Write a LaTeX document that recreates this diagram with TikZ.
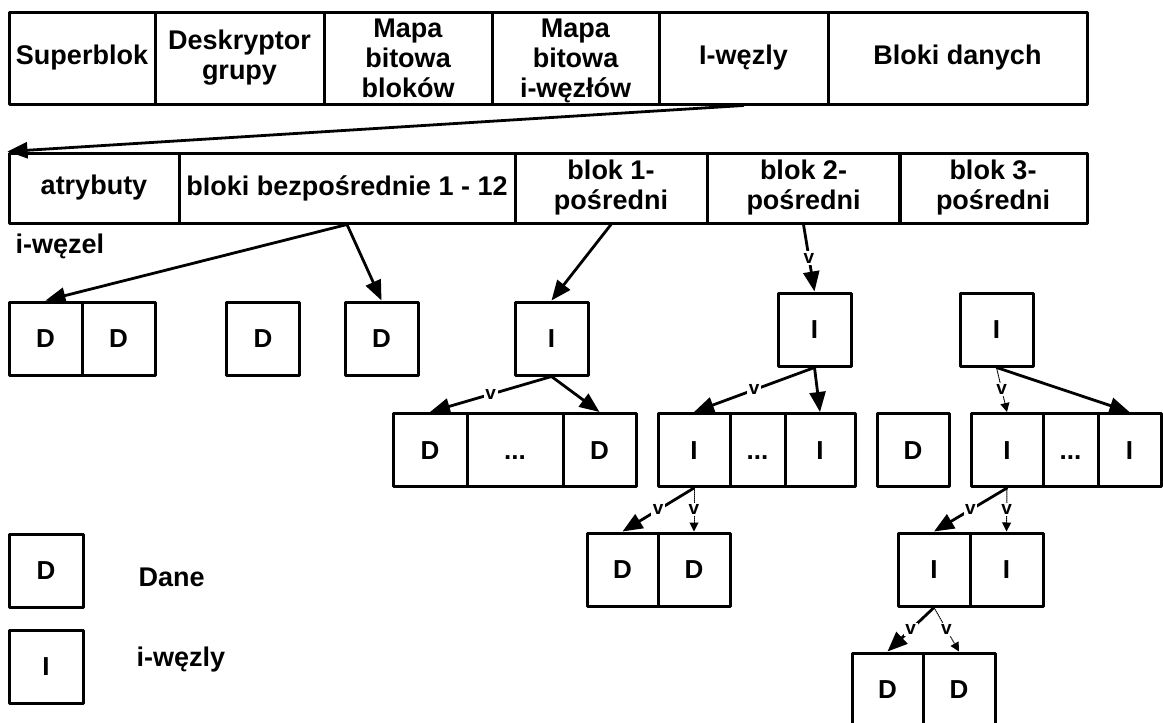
\documentclass[tikz,border=0pt]{standalone}
\usepackage{fontspec}
\setmainfont{Liberation Sans}
\usetikzlibrary{arrows.meta}

\begin{document}
\begin{tikzpicture}[x=1pt,y=-1pt,line cap=round,line join=round,
  font=\fontsize{27}{30}\selectfont\bfseries,
  cell/.style={draw,line width=3pt,inner sep=0pt,align=center},
  toprow/.style={cell,minimum height=92pt},
  inoderow/.style={cell,minimum height=70pt},
  blk/.style={cell,minimum width=#1,minimum height=73pt,text height=18.5pt,text depth=0pt,font=\fontsize{26}{30}\selectfont\bfseries},
  blk/.default=73pt,
  link/.style={-{Triangle[length=20pt,width=16pt]},line width=2.8pt},
  weaklink/.style={-{Triangle[length=9pt,width=9pt]},densely dotted,line width=1pt},
  vmark/.style={fill=white,inner sep=1.5pt,font=\fontsize{19}{21}\selectfont\bfseries}]
  \useasboundingbox (0,0) rectangle (1163,723);
  % grupa blokow
  \node[toprow,minimum width=146pt] (superblok) at (82,58) {Superblok};
  \node[toprow,minimum width=169pt] (deskryptor) at (239.5,58) {Deskryptor\\grupy};
  \node[toprow,minimum width=168pt] (mapablokow) at (408,58) {Mapa\\bitowa\\bloków};
  \node[toprow,minimum width=167pt,text depth=0pt] (mapawezlow) at (575.5,58) {Mapa\\bitowa\\i-węzłów};
  \node[toprow,minimum width=169pt] (wezly) at (743.5,58) {I-węzly};
  \node[toprow,minimum width=259pt] (blokidanych) at (957.5,58) {Bloki danych};
  % i-wezel
  \node[inoderow,minimum width=170pt] (atrybuty) at (94,188) {atrybuty};
  \node[inoderow,minimum width=336pt] (bezposr) at (347,188) {bloki bezpośrednie 1 - 12};
  \node[inoderow,minimum width=192pt] (posr1) at (611,188) {blok 1-\\pośredni};
  \node[inoderow,minimum width=193pt] (posr2) at (803.5,188) {blok 2-\\pośredni};
  \node[inoderow,minimum width=188pt] (posr3) at (993,188) {blok 3-\\pośredni};
  \node[anchor=west] (wezel) at (12,246) {i-węzel};
  \draw[link] (wezly.south) -- (atrybuty.north west);
  % bloki
  \node[blk] (d1) at (45.5,338.5) {D};
  \node[blk] (d2) at (118.5,338.5) {D};
  \node[blk] (d3) at (263,338.5) {D};
  \node[blk] (d4) at (381.5,338.5) {D};
  \node[blk] (i1) at (551.5,338.5) {I};
  \node[blk] (i2) at (814.5,329.5) {I};
  \node[blk] (i3) at (996.5,329.5) {I};
  \node[blk=74pt] (da) at (430,450) {D};
  \node[blk=96pt] (kropki1) at (515,450) {...};
  \node[blk] (db) at (599.5,450) {D};
  \node[blk=72pt] (ia) at (694,450) {I};
  \node[blk=55pt] (kropki2) at (757.5,450) {...};
  \node[blk=70pt] (ib) at (820,450) {I};
  \node[blk=72pt] (dsam) at (913,450) {D};
  \node[blk=72pt] (ic) at (1007,450) {I};
  \node[blk=55pt] (kropki3) at (1070.5,450) {...};
  \node[blk=63pt] (id) at (1129.5,450) {I};
  \node[blk=71pt] (dc) at (622.5,569.5) {D};
  \node[blk=72pt] (dd) at (694,569.5) {D};
  \node[blk=72pt] (ie) at (934,569.5) {I};
  \node[blk] (if) at (1006.5,569.5) {I};
  \node[blk=71pt] (de) at (887.5,689.5) {D};
  \node[blk=72pt] (df) at (959,689.5) {D};
  \draw[link] (bezposr.south) -- (d1.north);
  \draw[link] (bezposr.south) -- (d4.north);
  \draw[link] (posr1.south) -- (i1.north);
  \draw[link] (posr2.south) -- node[vmark] {v} (i2.north);
  \draw[link] (i1.south) -- node[vmark] {v} (da.north);
  \draw[link] (i1.south) -- (db.north);
  \draw[link] (i2.south) -- node[vmark] {v} (ia.north);
  \draw[link] (i2.south) -- (ib.north);
  \draw[weaklink] (i3.south) -- node[vmark] {v} (ic.north);
  \draw[link] (i3.south) -- (id.north);
  \draw[link] (ia.south) -- node[vmark] {v} (dc.north);
  \draw[weaklink] (ia.south) -- node[vmark] {v} (dd.north);
  \draw[link] (ic.south) -- node[vmark] {v} (ie.north);
  \draw[weaklink] (ic.south) -- node[vmark] {v} (if.north);
  \draw[link] (ie.south) -- node[vmark] {v} (de.north);
  \draw[weaklink] (ie.south) -- node[vmark] {v} (df.north);
  % legenda
  \node[blk=74pt] (legd) at (46,570.5) {D};
  \node[anchor=west] (dane) at (135,577) {Dane};
  \node[blk=74pt] (legi) at (46,666.5) {I};
  \node[anchor=west] (inody) at (133,660) {i-węzly};
\end{tikzpicture}
\end{document}
